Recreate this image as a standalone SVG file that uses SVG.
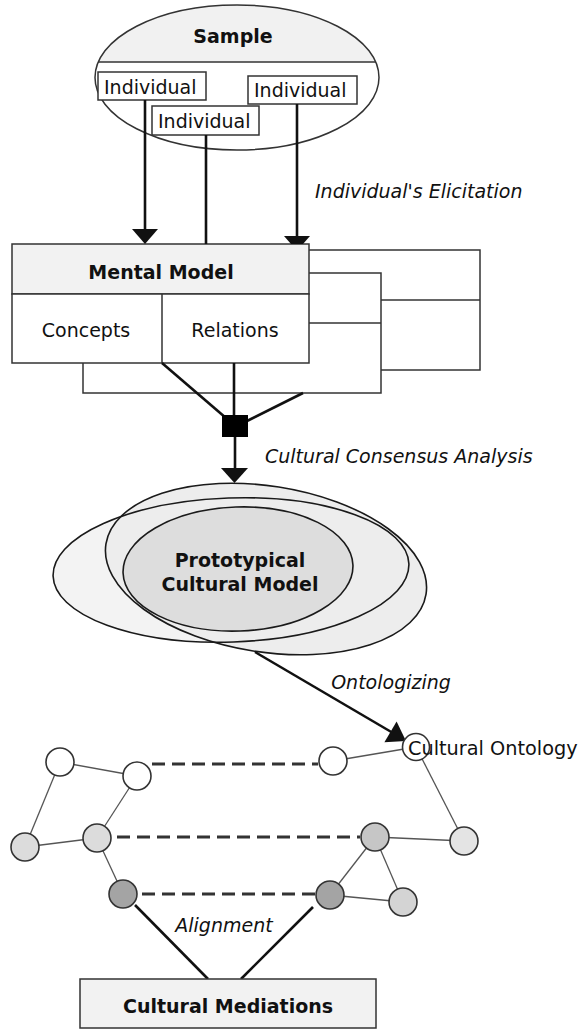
<svg xmlns="http://www.w3.org/2000/svg" width="582" height="1029" viewBox="0 0 582 1029">
  <style>
    text { font-family: "DejaVu Sans", Verdana, sans-serif; font-size: 19px; fill: #111; }
    .b { font-weight: bold; }
    .i { font-style: italic; }
    .mid { text-anchor: middle; }
    .box { stroke: #333; stroke-width: 1.5; }
    .thick { stroke: #111; stroke-width: 2.6; fill: none; }
    .edge { stroke: #555; stroke-width: 1.3; fill: none; }
    .dash { stroke: #333; stroke-width: 3; stroke-dasharray: 13 7; fill: none; }
    .node { stroke: #333; stroke-width: 1.6; }
    .ell { fill: none; stroke: #1a1a1a; stroke-width: 1.6; }
  </style>

  <!-- Sample population -->
  <g id="sample">
    <clipPath id="sampleClip"><ellipse cx="237" cy="77.5" rx="142" ry="72.5"/></clipPath>
    <ellipse cx="237" cy="77.5" rx="142" ry="72.5" fill="#fff"/>
    <rect x="90" y="0" width="300" height="62" fill="#f1f1f1" clip-path="url(#sampleClip)"/>
    <line x1="90" y1="62" x2="390" y2="62" stroke="#333" stroke-width="1.5" clip-path="url(#sampleClip)"/>
    <ellipse cx="237" cy="77.5" rx="142" ry="72.5" fill="none" class="box"/>
    <text x="233" y="43" class="b mid">Sample</text>
  </g>
  <g id="individual-1">
    <rect x="98" y="72" width="108" height="28" fill="#fff" class="box"/>
    <text x="104" y="94">Individual</text>
  </g>
  <g id="individual-3">
    <rect x="248" y="76" width="109" height="28" fill="#fff" class="box"/>
    <text x="254" y="97">Individual</text>
  </g>
  <g id="individual-2">
    <rect x="152" y="106" width="107" height="29" fill="#fff" class="box"/>
    <text x="158" y="128">Individual</text>
  </g>

  <!-- Stack of individual mental models -->
  <g id="mental-model-back">
    <rect x="185" y="250" width="295" height="120" fill="#fff" class="box"/>
    <line x1="185" y1="300" x2="480" y2="300" class="box"/>
  </g>
  <g id="mental-model-middle">
    <rect x="83" y="273" width="298" height="120" fill="#fff" class="box"/>
    <line x1="83" y1="323" x2="381" y2="323" class="box"/>
  </g>
  <g id="mental-model">
    <rect x="12" y="244" width="297" height="50" fill="#f2f2f2" class="box"/>
    <rect x="12" y="294" width="297" height="69" fill="#fff" class="box"/>
    <line x1="162" y1="294" x2="162" y2="363" class="box"/>
    <text x="161" y="279" class="b mid">Mental Model</text>
    <text x="86" y="337" class="mid">Concepts</text>
    <text x="235" y="337" class="mid">Relations</text>
  </g>

  <!-- Cultural model ellipses -->
  <g id="prototypical-cultural-model">
    <ellipse cx="231" cy="570" rx="178" ry="72" transform="rotate(-2 231 570)" fill="#f3f3f3"/>
    <ellipse cx="266" cy="569" rx="162" ry="83" transform="rotate(8.9 266 569)" fill="#ededed"/>
    <ellipse cx="238" cy="569" rx="115" ry="62" transform="rotate(-2 238 569)" fill="#dddddd"/>
    <ellipse cx="231" cy="570" rx="178" ry="72" transform="rotate(-2 231 570)" class="ell"/>
    <ellipse cx="266" cy="569" rx="162" ry="83" transform="rotate(8.9 266 569)" class="ell"/>
    <ellipse cx="238" cy="569" rx="115" ry="62" transform="rotate(-2 238 569)" class="ell"/>
    <text x="240" y="567" class="b mid">Prototypical</text>
    <text x="240" y="591" class="b mid">Cultural Model</text>
  </g>

  <!-- Connectors -->
  <g id="connectors">
    <line x1="145" y1="100" x2="145" y2="230" class="thick"/>
    <polygon points="132,229 158,229 145,244" fill="#111"/>
    <line x1="206" y1="135" x2="206" y2="244" class="thick"/>
    <line x1="297" y1="104" x2="297" y2="237" class="thick"/>
    <polygon points="284,236 310,236 303,244 291,244" fill="#111"/>

    <line x1="162" y1="363" x2="226" y2="418" class="thick"/>
    <line x1="234" y1="363" x2="234" y2="416" class="thick"/>
    <line x1="303" y1="393" x2="247" y2="421" class="thick"/>
    <rect x="222" y="415" width="26" height="22" fill="#000"/>
    <line x1="235" y1="437" x2="235" y2="469" class="thick"/>
    <polygon points="221,468 248,468 234.5,483" fill="#111"/>

    <line x1="255" y1="652" x2="393" y2="733" class="thick"/>
    <polygon points="396.6,721.6 384.4,742.2 406,741" fill="#111"/>

    <line x1="135" y1="905" x2="208" y2="979" class="thick"/>
    <line x1="313" y1="907" x2="241" y2="979" class="thick"/>

    <!-- ontology relations -->
    <line x1="60" y1="762" x2="137" y2="776" class="edge"/>
    <line x1="60" y1="762" x2="25" y2="847" class="edge"/>
    <line x1="137" y1="776" x2="97" y2="838" class="edge"/>
    <line x1="25" y1="847" x2="97" y2="838" class="edge"/>
    <line x1="97" y1="838" x2="123" y2="894" class="edge"/>
    <line x1="333" y1="761" x2="416" y2="747" class="edge"/>
    <line x1="416" y1="747" x2="464" y2="841" class="edge"/>
    <line x1="375" y1="837" x2="464" y2="841" class="edge"/>
    <line x1="375" y1="837" x2="330" y2="895" class="edge"/>
    <line x1="375" y1="837" x2="403" y2="902" class="edge"/>
    <line x1="330" y1="895" x2="403" y2="902" class="edge"/>

    <!-- alignments -->
    <line x1="152" y1="764" x2="318" y2="764" class="dash"/>
    <line x1="117" y1="837" x2="360" y2="837" class="dash"/>
    <line x1="142" y1="894" x2="316" y2="894" class="dash"/>
  </g>

  <!-- Ontology concepts -->
  <g id="onto-left-1"><circle cx="60" cy="762" r="14" fill="#fff" class="node"/></g>
  <g id="onto-left-2"><circle cx="137" cy="776" r="14" fill="#fff" class="node"/></g>
  <g id="onto-left-3"><circle cx="25" cy="847" r="14" fill="#dcdcdc" class="node"/></g>
  <g id="onto-left-4"><circle cx="97" cy="838" r="14" fill="#dcdcdc" class="node"/></g>
  <g id="onto-left-5"><circle cx="123" cy="894" r="14" fill="#a4a4a4" class="node"/></g>
  <g id="onto-right-1"><circle cx="333" cy="761" r="14" fill="#fff" class="node"/></g>
  <g id="cultural-ontology">
    <circle cx="416" cy="747" r="13.5" fill="#fff" class="node"/>
    <text x="408" y="755" style="font-size:19.3px">Cultural Ontology</text>
  </g>
  <g id="onto-right-2"><circle cx="375" cy="837" r="14" fill="#c6c6c6" class="node"/></g>
  <g id="onto-right-3"><circle cx="464" cy="841" r="14" fill="#e4e4e4" class="node"/></g>
  <g id="onto-right-4"><circle cx="330" cy="895" r="14" fill="#a4a4a4" class="node"/></g>
  <g id="onto-right-5"><circle cx="403" cy="902" r="14" fill="#d4d4d4" class="node"/></g>

  <!-- Process labels -->
  <g id="labels">
    <text x="315" y="198" class="i">Individual's Elicitation</text>
    <text x="265" y="463" class="i">Cultural Consensus Analysis</text>
    <text x="391" y="689" class="i mid">Ontologizing</text>
    <text x="224" y="932" class="i mid">Alignment</text>
  </g>

  <g id="cultural-mediations">
    <rect x="80" y="979" width="296" height="49" fill="#f2f2f2" class="box"/>
    <text x="228" y="1013" class="b mid">Cultural Mediations</text>
  </g>
</svg>
